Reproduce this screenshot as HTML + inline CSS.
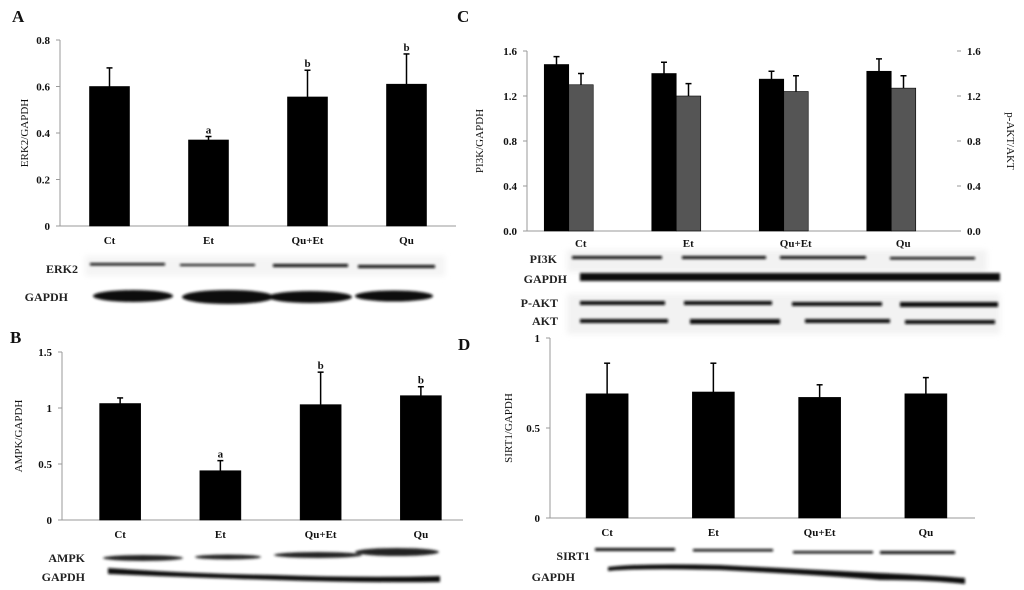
<!DOCTYPE html>
<html><head><meta charset="utf-8">
<style>
html,body{margin:0;padding:0;background:#fff;}
svg{display:block;font-family:"Liberation Serif",serif;}
.t{font-weight:bold;font-size:11px;fill:#111;}
.pl{font-weight:bold;font-size:17px;fill:#111;}
.yl{font-size:11px;fill:#111;}
.bl{font-weight:bold;font-size:12px;fill:#222;}
</style></head><body>
<svg id="fig" width="1024" height="590" viewBox="0 0 1024 590">
<defs>
<filter id="blur" x="-10%" y="-100%" width="120%" height="300%"><feGaussianBlur stdDeviation="1.2"/></filter>
<filter id="blur2" x="-10%" y="-100%" width="120%" height="300%"><feGaussianBlur stdDeviation="3"/></filter>
</defs>
<text class="pl" x="12" y="22">A</text>
<text class="pl" x="457" y="22">C</text>
<text class="pl" x="10" y="343">B</text>
<text class="pl" x="458" y="350">D</text>
<g id="charts"></g>
<g id="blots">
<rect x="85" y="256" width="360" height="20" fill="#f4f4f4" filter="url(#blur2)"/>
<text class="bl" x="78" y="273" text-anchor="end">ERK2</text>
<text class="bl" x="68" y="301" text-anchor="end">GAPDH</text>
<g filter="url(#blur)" fill="#111">
<rect x="90" y="263" width="75" height="2.5"/><rect x="180" y="264" width="75" height="2"/><rect x="273" y="264" width="75" height="3"/><rect x="358" y="265" width="77" height="3"/>
<ellipse cx="133" cy="296" rx="40" ry="6"/><ellipse cx="228" cy="297" rx="46" ry="7"/><ellipse cx="310" cy="297" rx="42" ry="6"/><ellipse cx="394" cy="296" rx="39" ry="5.5"/>
</g>
<rect x="567" y="250" width="420" height="22" fill="#f2f2f2" filter="url(#blur2)"/>
<rect x="567" y="294" width="433" height="40" fill="#f2f2f2" filter="url(#blur2)"/>
<text class="bl" x="557" y="263" text-anchor="end">PI3K</text>
<text class="bl" x="567" y="283" text-anchor="end">GAPDH</text>
<text class="bl" x="558" y="307" text-anchor="end">P-AKT</text>
<text class="bl" x="558" y="325" text-anchor="end">AKT</text>
<g filter="url(#blur)" fill="#111">
<rect x="572" y="256" width="90" height="3"/><rect x="682" y="256" width="84" height="3"/><rect x="780" y="256" width="86" height="3"/><rect x="890" y="257" width="85" height="2.5"/>
<rect x="580" y="273" width="420" height="8"/>
<rect x="580" y="301" width="85" height="4"/><rect x="684" y="301" width="88" height="4"/><rect x="792" y="302" width="90" height="4"/><rect x="900" y="302" width="98" height="5"/>
<rect x="580" y="319" width="88" height="4"/><rect x="690" y="319" width="90" height="5"/><rect x="805" y="319" width="85" height="4"/><rect x="905" y="320" width="90" height="4"/>
</g>
<text class="bl" x="85" y="562" text-anchor="end">AMPK</text>
<text class="bl" x="85" y="581" text-anchor="end">GAPDH</text>
<g filter="url(#blur)" fill="#222">
<ellipse cx="143" cy="558" rx="40" ry="3"/><ellipse cx="228" cy="557" rx="33" ry="2.5"/><ellipse cx="318" cy="555" rx="44" ry="3"/><ellipse cx="397" cy="552" rx="42" ry="4"/>
<path d="M108 568 Q200 574 275 575 Q360 578 440 576 L440 582 Q360 583 275 580 Q200 578 108 574 Z" fill="#111"/>
</g>
<text class="bl" x="590" y="560" text-anchor="end">SIRT1</text>
<text class="bl" x="575" y="581" text-anchor="end">GAPDH</text>
<g filter="url(#blur)" fill="#111">
<rect x="595" y="548" width="80" height="3"/><rect x="693" y="549" width="80" height="2.5"/><rect x="793" y="551" width="80" height="2.5"/><rect x="880" y="551" width="75" height="3"/>
<path d="M608 567 Q640 563 720 565 Q820 570 880 573 Q930 575 965 578 L965 584 Q930 580 880 580 Q820 575 720 570 Q640 568 608 571 Z"/>
</g>
</g>
</svg>
<script>
// Panel A data
const catsA = ["Ct","Et","Qu+Et","Qu"];
const valsA = [0.60,0.37,0.555,0.61];
const errA = [0.08,0.015,0.115,0.13];
const sigA = ["","a","b","b"];
const ticksA = ["0","0.2","0.4","0.6","0.8"];
// Panel B data
const catsB = ["Ct","Et","Qu+Et","Qu"];
const valsB = [1.04,0.44,1.03,1.11];
const errB = [0.05,0.09,0.29,0.08];
const sigB = ["","a","b","b"];
const ticksB = ["0","0.5","1","1.5"];
// Panel C data
const catsC = ["Ct","Et","Qu+Et","Qu"];
const valsPI3K = [1.48,1.40,1.35,1.42];
const errPI3K = [0.07,0.10,0.07,0.11];
const valsPAKT = [1.30,1.20,1.24,1.27];
const errPAKT = [0.10,0.11,0.14,0.11];
const ticksC = ["0.0","0.4","0.8","1.2","1.6"];
// Panel D data
const catsD = ["Ct","Et","Qu+Et","Qu"];
const valsD = [0.69,0.70,0.67,0.69];
const errD = [0.17,0.16,0.07,0.09];
const ticksD = ["0","0.5","1"];

const NS="http://www.w3.org/2000/svg";
const root=document.getElementById('charts');
function mk(tag,attrs,parent){const e=document.createElementNS(NS,tag);for(const k in attrs)e.setAttribute(k,attrs[k]);(parent||root).appendChild(e);return e;}
function txt(s,attrs,parent){const e=mk('text',attrs,parent);e.textContent=s;return e;}

function panel(o){
  const g=mk('g',{});
  
  
  const max=parseFloat(o.ticks[o.ticks.length-1]);
  const y=v=>o.y0-(v/max)*(o.y0-o.y1);
  const ax=mk('line',{x1:o.x0,y1:o.y1,x2:o.x0,y2:o.y0,stroke:'#999','stroke-width':1},g);
  
  
  const xa=mk('line',{x1:o.x0,y1:o.y0,x2:o.xEnd,y2:o.y0,stroke:'#999','stroke-width':1},g);
  
  
  o.ticks.forEach(t=>{
    const v=parseFloat(t);
    mk('line',{x1:o.x0-4,y1:y(v),x2:o.x0,y2:y(v),stroke:'#999'},g);
    const tl=txt(t,{x:o.x0-10,y:y(v)+4,'text-anchor':'end',class:'t'},g);
    
    
    if(o.right){
      mk('line',{x1:o.xEnd,y1:y(v),x2:o.xEnd+4,y2:y(v),stroke:'#999'},g);
      const tr=txt(t,{x:o.xEnd+10,y:y(v)+4,class:'t'},g);
      
      
    }
  });
  const yt=txt(o.ytitle,{transform:`translate(${o.ytx},${(o.y0+o.y1)/2}) rotate(-90)`,'text-anchor':'middle',class:'yl'},g);
  
  
  if(o.right){
    const yr=txt(o.rtitle,{transform:`translate(${o.xEnd+50},${(o.y0+o.y1)/2}) rotate(90)`,'text-anchor':'middle',class:'yl'},g);
    
    
  }
  const step=(o.xEnd-o.x0)/o.cats.length;
  o.cats.forEach((c,i)=>{
    const cx=o.x0+step*(i+0.5)+o.shift;
    const cl=txt(c,{x:cx+o.labShift,y:o.y0+o.labDy,'text-anchor':'middle',class:'t'},g);
    
    
    o.series.forEach((s,si)=>{
      const bx=cx+(si-o.series.length/2)*o.bw;
      const v=s.vals[i],e=s.err[i];
      const r=mk('rect',{x:bx,y:y(v),width:o.bw,height:o.y0-y(v),fill:s.fill,stroke:'#000','stroke-width':0.6},g);
      
      
      const ex=bx+o.bw/2;
      const el=mk('line',{x1:ex,y1:y(v),x2:ex,y2:y(v+e),stroke:'#000','stroke-width':1.5},g);
      
      
      mk('line',{x1:ex-3,y1:y(v+e),x2:ex+3,y2:y(v+e),stroke:'#000','stroke-width':1.5},g);
      if(s.sig&&s.sig[i]){
        const sl=txt(s.sig[i],{x:ex,y:y(v+e)-3,'text-anchor':'middle',class:'t','font-size':'12'},g);
        
        
      }
    });
  });
}
panel({name:'panel-a-erk2-chart',x0:60,xEnd:456,y0:226,y1:40,ticks:ticksA,cats:catsA,shift:0,labShift:0,bw:40,labDy:18,ytitle:'ERK2/GAPDH',ytx:28,
  series:[{vals:valsA,err:errA,sig:sigA,fill:'#000'}]});
panel({name:'panel-b-ampk-chart',x0:62,xEnd:463,y0:520,y1:352,ticks:ticksB,cats:catsB,shift:8,labShift:0,bw:41,labDy:18,ytitle:'AMPK/GAPDH',ytx:22,
  series:[{vals:valsB,err:errB,sig:sigB,fill:'#000'}]});
panel({name:'panel-c-pi3k-akt-chart',x0:527,xEnd:957,y0:231,y1:51,ticks:ticksC,cats:catsC,shift:-12,labShift:12,bw:24.5,labDy:16,ytitle:'PI3K/GAPDH',ytx:483,right:true,rtitle:'p-AKT/AKT',
  series:[{key:'pi3k',vals:valsPI3K,err:errPI3K,fill:'#000'},{key:'pakt',vals:valsPAKT,err:errPAKT,fill:'#555'}]});
panel({name:'panel-d-sirt1-chart',x0:550,xEnd:975,y0:518,y1:338,ticks:ticksD,cats:catsD,shift:4,labShift:0,bw:42,labDy:18,ytitle:'SIRT1/GAPDH',ytx:512,
  series:[{vals:valsD,err:errD,fill:'#000'}]});
</script>
</body></html>
